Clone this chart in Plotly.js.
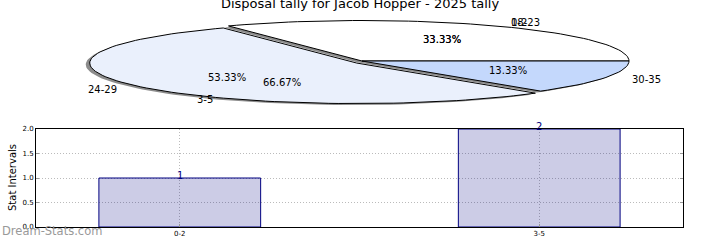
<!DOCTYPE html>
<html>
<head>
<meta charset="utf-8">
<script src="https://cdn.plot.ly/plotly-3.0.1.min.js"></script>
<style>html,body{margin:0;padding:0;background:#fff;}#chart{width:720px;height:240px;}</style>
</head>
<body>
<div id="chart"></div>
<script>
// ---- data ----
const chartTitle = 'Disposal tally for Jacob Hopper - 2025 tally';
const pieLabels = ['18-23', '24-29', '30-35'];
const pieValues = [5, 8, 2];
const pie2Labels = ['0-2', '3-5'];
const pie2Values = [1, 2];
const barCategories = ['0-2', '3-5'];
const barValues = [1, 2];
const yTickValues = [0, 0.5, 1, 1.5, 2];
const yAxisTitle = 'Stat Intervals';
const watermark = 'Dream-Stats.com';

// ---- styles / geometry ----
const pieColors = ['#ffffff', '#eaf0fc', '#c4d8fc'];
const pieExplode = [0, 1, 0];
const CX = 362, CY = 61, RA = 267, RB = 40.5;
const FONT = 'DejaVu Sans, sans-serif';

function pt(deg, k, off) {
  const r = deg * Math.PI / 180;
  return [CX + off[0] + k * RA * Math.cos(r), CY + off[1] - k * RB * Math.sin(r)];
}
function slices(values) {
  const total = values.reduce((a, b) => a + b, 0);
  let start = 0;
  return values.map(v => {
    const span = v / total * 360;
    const s = {a1: start, a2: start + span, mid: start + span / 2, pct: (v / total * 100).toFixed(2) + '%'};
    start += span;
    return s;
  });
}
function slicePoly(s, off) {
  const xs = [], ys = [];
  const c = pt(0, 0, off);
  xs.push(c[0]); ys.push(c[1]);
  const n = Math.max(8, Math.ceil((s.a2 - s.a1) / 2));
  for (let i = 0; i <= n; i++) {
    const p = pt(s.a1 + (s.a2 - s.a1) * i / n, 1, off);
    xs.push(p[0]); ys.push(p[1]);
  }
  xs.push(c[0]); ys.push(c[1]);
  return [xs, ys];
}

const traces = [];
const annotations = [];
const s1 = slices(pieValues);
const offs = s1.map((s, i) => {
  const r = s.mid * Math.PI / 180;
  return pieExplode[i] ? [6.5 * Math.cos(r), -3.5 * Math.sin(r)] : [0, 0];
});
// shadows
s1.forEach((s, i) => {
  const o = [offs[i][0] - 4, offs[i][1] + 1.5];
  const [xs, ys] = slicePoly(s, o);
  traces.push({type: 'scatter', mode: 'lines', x: xs, y: ys, xaxis: 'x2', yaxis: 'y2',
    fill: 'toself', fillcolor: 'rgba(0,0,0,0.45)', line: {width: 0}, hoverinfo: 'skip'});
});
// slices
s1.forEach((s, i) => {
  const [xs, ys] = slicePoly(s, offs[i]);
  traces.push({type: 'scatter', mode: 'lines', x: xs, y: ys, xaxis: 'x2', yaxis: 'y2',
    fill: 'toself', fillcolor: pieColors[i], line: {width: 1, color: '#000'}, hoverinfo: 'skip'});
});
function pieText(sl, labels, offsets) {
  sl.forEach((s, i) => {
    const o = offsets ? offsets[i] : [0, 0];
    const lp = pt(s.mid, 1.1, o);
    const cosv = Math.cos(s.mid * Math.PI / 180);
    annotations.push({xref: 'x2', yref: 'y2', x: lp[0], y: lp[1], text: labels[i], showarrow: false,
      xanchor: cosv >= 0 ? 'left' : 'right', yanchor: 'middle', font: {family: FONT, size: 10, color: '#000'}});
    const pp = pt(s.mid, 0.6, o);
    annotations.push({xref: 'x2', yref: 'y2', x: pp[0], y: pp[1], text: s.pct, showarrow: false,
      xanchor: 'center', yanchor: 'middle', font: {family: FONT, size: 10, color: '#000'}});
  });
}
pieText(s1, pieLabels, offs);
pieText(slices(pie2Values), pie2Labels, null);

// bars
traces.push({type: 'bar', x: barCategories, y: barValues, xaxis: 'x', yaxis: 'y', width: 0.45,
  marker: {color: 'rgba(0,0,128,0.2)', line: {color: '#000080', width: 1}}, hoverinfo: 'skip'});
barCategories.forEach((c, i) => {
  annotations.push({xref: 'x', yref: 'y', x: c, y: barValues[i], text: String(barValues[i]), showarrow: false,
    xanchor: 'center', yanchor: 'middle', yshift: 3, font: {family: FONT, size: 10, color: '#000080'}});
});

annotations.push({xref: 'paper', yref: 'paper', x: 12 / 720, y: 1 - 178 / 240, text: yAxisTitle,
  textangle: -90, showarrow: false, xanchor: 'center', yanchor: 'middle', font: {family: FONT, size: 10, color: '#000'}});
annotations.push({xref: 'paper', yref: 'paper', x: 0, y: 1 - 231 / 240, text: watermark,
  showarrow: false, xanchor: 'left', yanchor: 'middle', font: {family: FONT, size: 11.5, color: '#999999'}});

const gridStyle = {showgrid: true, gridcolor: '#bbbbbb', griddash: '1px,2px', gridwidth: 1};
const layout = {
  width: 720, height: 240,
  margin: {l: 0, r: 0, t: 0, b: 0},
  paper_bgcolor: '#fff', plot_bgcolor: 'rgba(0,0,0,0)',
  showlegend: false,
  title: {text: chartTitle, x: 0.5, xanchor: 'center', y: 1 - 3 / 240, yanchor: 'middle', yref: 'container',
    font: {family: FONT, size: 13, color: '#000'}},
  xaxis: Object.assign({domain: [36 / 720, 683 / 720], anchor: 'y', type: 'category', range: [-0.4, 1.4],
    showline: true, mirror: true, linecolor: '#000', linewidth: 1,
    ticks: 'inside', ticklen: 3, tickcolor: '#999', tickfont: {family: FONT, size: 7, color: '#000'}, zeroline: false, fixedrange: true}, gridStyle),
  yaxis: Object.assign({domain: [1 - 227 / 240, 1 - 129 / 240], anchor: 'x', range: [0, 2], tickvals: yTickValues, tickformat: '.1f',
    showline: true, mirror: 'ticks', linecolor: '#000', linewidth: 1,
    ticks: 'inside', ticklen: 3, tickcolor: '#999', tickfont: {family: FONT, size: 7, color: '#000'}, zeroline: false, fixedrange: true}, gridStyle),
  xaxis2: {domain: [0, 1], anchor: 'y2', range: [0, 720], visible: false, fixedrange: true},
  yaxis2: {domain: [0, 1], anchor: 'x2', range: [240, 0], visible: false, fixedrange: true},
  annotations: annotations
};
Plotly.newPlot('chart', traces, layout, {staticPlot: true, displayModeBar: false});
</script>
</body>
</html>
